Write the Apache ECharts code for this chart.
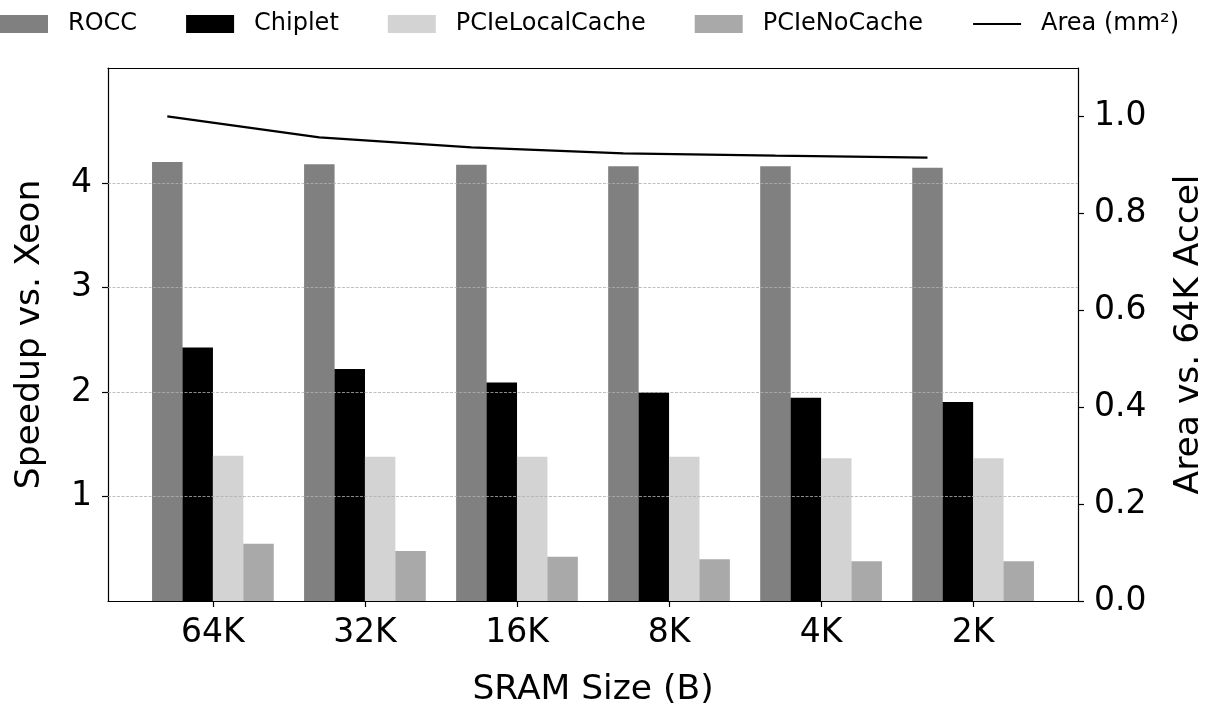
<!DOCTYPE html>
<html>
<head>
<meta charset="utf-8">
<script src="https://cdn.jsdelivr.net/npm/echarts@6/dist/echarts.min.js"></script>
<style>
html,body{margin:0;padding:0;background:#fff;}
#chart{width:1211px;height:711px;}
</style>
</head>
<body>
<div id="chart"></div>
<script>
const categories = ['64K', '32K', '16K', '8K', '4K', '2K'];
const rocc = [4.20, 4.18, 4.175, 4.16, 4.16, 4.145];
const chiplet = [2.425, 2.22, 2.09, 1.995, 1.945, 1.905];
const pcieLocalCache = [1.39, 1.38, 1.38, 1.38, 1.365, 1.365];
const pcieNoCache = [0.548, 0.478, 0.424, 0.40, 0.38, 0.38];
const area = [1.0, 0.957, 0.936, 0.924, 0.919, 0.915];
const leftTicks = [1, 2, 3, 4];
const rightTicks = [0, 0.2, 0.4, 0.6, 0.8, 1.0];

const FONT = 'DejaVu Sans';
const barW = 0.2;
const offsets = [-1.5, -0.5, 0.5, 1.5].map(k => k * barW);
const catIdx = categories.map((c, i) => i);
const xMin = -2 * barW - 0.29, xMax = categories.length - 1 + 2 * barW + 0.29;

const chart = echarts.init(document.getElementById('chart'), null, {renderer: 'canvas'});

function barSeries(name, vals, k, color) {
  return {
    name: name, type: 'bar', xAxisIndex: 0, yAxisIndex: 0,
    barWidth: 30.5, barGap: '-100%',
    itemStyle: {color: color},
    data: vals.map((v, i) => [i + offsets[k], v]),
    z: 2
  };
}

const series = [
  barSeries('ROCC', rocc, 0, '#808080'),
  barSeries('Chiplet', chiplet, 1, '#000000'),
  barSeries('PCIeLocalCache', pcieLocalCache, 2, '#d3d3d3'),
  barSeries('PCIeNoCache', pcieNoCache, 3, '#a9a9a9'),
  {
    name: 'Area (mm²)', type: 'line', xAxisIndex: 0, yAxisIndex: 1,
    symbol: 'none', smooth: false,
    lineStyle: {color: '#000', width: 2.2},
    itemStyle: {color: '#000'},
    data: area.map((v, i) => [i + offsets[0], v]),
    z: 5
  }
];
series[0].markLine = {
  silent: true, symbol: ['none', 'none'], label: {show: false},
  lineStyle: {color: '#b0b0b0', type: [3, 1.5], width: 0.8},
  data: leftTicks.map(v => ({yAxis: v})),
  z: 3
};

const axisLineStyle = {color: '#000', width: 1.2};

chart.setOption({
  animation: false,
  backgroundColor: '#fff',
  textStyle: {fontFamily: FONT},
  grid: {left: 108, right: 133, top: 68, bottom: 110, containLabel: false, outerBoundsMode: 'none'},
  legend: {
    top: 12, left: 0, padding: 0,
    itemWidth: 48, itemHeight: 18, itemGap: 49,
    textStyle: {fontFamily: FONT, fontSize: 24, color: '#000', padding: [0, 0, 0, 15]},
    data: [
      {name: 'ROCC', icon: 'rect'},
      {name: 'Chiplet', icon: 'rect'},
      {name: 'PCIeLocalCache', icon: 'rect'},
      {name: 'PCIeNoCache', icon: 'rect'},
      {name: 'Area (mm²)', itemStyle: {opacity: 0, borderWidth: 0}}
    ]
  },
  xAxis: [
    {
      type: 'value', position: 'bottom', min: xMin, max: xMax,
      axisLine: {show: true, onZero: false, lineStyle: axisLineStyle},
      axisTick: {show: true, length: 6, customValues: catIdx, lineStyle: axisLineStyle},
      axisLabel: {customValues: catIdx, formatter: v => categories[Math.round(v)],
        fontFamily: FONT, fontSize: 33, color: '#000', margin: 16},
      splitLine: {show: false},
      name: 'SRAM Size (B)', nameLocation: 'middle', nameGap: 72,
      nameTextStyle: {fontFamily: FONT, fontSize: 34.5, color: '#000'}
    },
    {
      type: 'value', position: 'top', min: xMin, max: xMax,
      axisLine: {show: true, onZero: false, lineStyle: axisLineStyle},
      axisTick: {show: false}, axisLabel: {show: false}, splitLine: {show: false}
    }
  ],
  yAxis: [
    {
      type: 'value', position: 'left', min: 0, max: 5.1,
      axisLine: {show: true, onZero: false, lineStyle: axisLineStyle},
      axisTick: {show: true, length: 6, customValues: leftTicks, lineStyle: axisLineStyle},
      axisLabel: {customValues: leftTicks, fontFamily: FONT, fontSize: 33, color: '#000', margin: 16},
      splitLine: {show: false},
      name: 'Speedup vs. Xeon', nameLocation: 'middle', nameGap: 60,
      nameTextStyle: {fontFamily: FONT, fontSize: 34.5, color: '#000'}
    },
    {
      type: 'value', position: 'right', min: 0, max: 1.1,
      axisLine: {show: true, onZero: false, lineStyle: axisLineStyle},
      axisTick: {show: true, length: 6, customValues: rightTicks, lineStyle: axisLineStyle},
      axisLabel: {customValues: rightTicks, formatter: v => v.toFixed(1),
        fontFamily: FONT, fontSize: 33, color: '#000', margin: 16},
      splitLine: {show: false},
      name: 'Area vs. 64K Accel', nameLocation: 'middle', nameGap: 94,
      nameTextStyle: {fontFamily: FONT, fontSize: 34.5, color: '#000'}
    }
  ],
  series: series
});
</script>
</body>
</html>
